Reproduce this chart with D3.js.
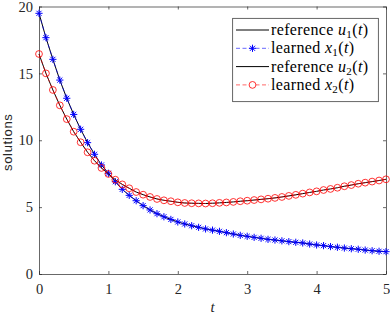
<!DOCTYPE html>
<html>
<head>
<meta charset="utf-8">
<script src="https://cdn.jsdelivr.net/npm/d3@7"></script>
<style>
  body { margin: 0; background: #fff; }
  svg { display: block; }
</style>
</head>
<body>
<svg id="chart" width="390" height="314"></svg>
<script>

// time samples (every 0.1 from 0 to 5)
var timeSteps = d3.range(51).map(function(i){ return i / 10; });

// learned x1(t), blue stars (reference u1 follows the same path)
var learnedX1 = [19.49, 17.67, 16.05, 14.50, 13.14, 11.93, 10.82, 9.82, 8.95, 8.15,
                 7.53, 6.90, 6.33, 5.88, 5.48, 5.11, 4.79, 4.51, 4.28, 4.08,
                 3.89, 3.74, 3.61, 3.49, 3.37, 3.28, 3.19, 3.09, 2.99, 2.89,
                 2.82, 2.74, 2.67, 2.59, 2.54, 2.48, 2.42, 2.37, 2.32, 2.24,
                 2.17, 2.12, 2.05, 2.00, 1.94, 1.89, 1.85, 1.79, 1.74, 1.70, 1.67];

// learned x2(t), red circles (reference u2 follows the same path)
var learnedX2 = [16.45, 15.00, 13.76, 12.61, 11.58, 10.64, 9.85, 9.10, 8.47, 7.93,
                 7.48, 7.05, 6.70, 6.41, 6.13, 5.93, 5.76, 5.61, 5.51, 5.44,
                 5.36, 5.31, 5.29, 5.28, 5.27, 5.29, 5.32, 5.35, 5.39, 5.44,
                 5.48, 5.53, 5.58, 5.63, 5.69, 5.76, 5.84, 5.92, 6.01, 6.10,
                 6.18, 6.28, 6.36, 6.45, 6.56, 6.65, 6.75, 6.83, 6.91, 6.99, 7.08];

var referenceU1 = learnedX1.slice();
var referenceU2 = learnedX2.slice();

var xTicks = [0, 1, 2, 3, 4, 5];
var yTicks = [0, 5, 10, 15, 20];

var legendRows = [
    { label: "reference ", sym: "u", sub: "1", kind: "ref" },
    { label: "learned ",   sym: "x", sub: "1", kind: "blue" },
    { label: "reference ", sym: "u", sub: "2", kind: "ref" },
    { label: "learned ",   sym: "x", sub: "2", kind: "red" }
];

var axisColor = "#262626";
var blue = "#0000ff";
var red = "#ff0000";
var serif = "'Liberation Serif', 'Times New Roman', serif";

var svg = d3.select("#chart");

var plotLeft = 39, plotRight = 386, plotTop = 6.5, plotBottom = 274;

var x = d3.scaleLinear().domain([0, 5]).range([plotLeft, plotRight]);
var y = d3.scaleLinear().domain([0, 20]).range([plotBottom, plotTop]);

// ---- axes (box on, inward ticks) ----
function styleAxis(g){
    g.select(".domain").attr("stroke", axisColor).attr("stroke-width", 0.7);
    g.selectAll(".tick line").attr("stroke", axisColor).attr("stroke-width", 0.7);
    g.selectAll(".tick text")
     .style("font-family", serif)
     .style("font-size", "14.5px")
     .style("fill", axisColor);
}

svg.append("g")
   .attr("transform", "translate(0," + plotBottom + ")")
   .call(d3.axisBottom(x).tickValues(xTicks).tickFormat(d3.format("d"))
           .tickSize(-3).tickSizeOuter(0).tickPadding(10))
   .call(styleAxis);

svg.append("g")
   .attr("transform", "translate(0," + plotTop + ")")
   .call(d3.axisTop(x).tickValues(xTicks).tickSize(-3).tickSizeOuter(0).tickFormat(""))
   .call(styleAxis);

svg.append("g")
   .attr("transform", "translate(" + plotLeft + ",0)")
   .call(d3.axisLeft(y).tickValues(yTicks).tickFormat(d3.format("d"))
           .tickSize(-3).tickSizeOuter(0).tickPadding(6))
   .call(styleAxis);

svg.append("g")
   .attr("transform", "translate(" + plotRight + ",0)")
   .call(d3.axisRight(y).tickValues(yTicks).tickSize(-3).tickSizeOuter(0).tickFormat(""))
   .call(styleAxis);

// axis labels
svg.append("text")
   .attr("x", (plotLeft + plotRight) / 2)
   .attr("y", 312)
   .attr("text-anchor", "middle")
   .style("font-family", serif)
   .style("font-style", "italic")
   .style("font-size", "15px")
   .style("fill", axisColor)
   .text("t");

svg.append("text")
   .attr("transform", "translate(12," + ((plotTop + plotBottom) / 2 + 2) + ") rotate(-90)")
   .attr("text-anchor", "middle")
   .style("font-family", "'Liberation Sans', Arial, sans-serif")
   .style("font-size", "13px")
   .style("letter-spacing", "0.7px")
   .style("fill", axisColor)
   .text("solutions");

// ---- series ----
var line = function(values){
    return d3.line()
             .x(function(d, i){ return x(timeSteps[i]); })
             .y(function(d){ return y(d); })(values);
};

function starPath(r){
    var d = r * Math.SQRT1_2;
    return "M" + (-r) + ",0H" + r + "M0," + (-r) + "V" + r +
           "M" + (-d) + "," + (-d) + "L" + d + "," + d +
           "M" + (-d) + "," + d + "L" + d + "," + (-d);
}

var plot = svg.append("g").attr("class", "plot");

// reference u1
plot.append("path").attr("d", line(referenceU1))
    .attr("fill", "none").attr("stroke", "#000").attr("stroke-width", 1);

// learned x1
plot.append("path").attr("d", line(learnedX1))
    .attr("fill", "none").attr("stroke", blue).attr("stroke-width", 0.6)
    .attr("stroke-dasharray", "4,2.5");
plot.selectAll(".star").data(learnedX1).enter()
    .append("path")
    .attr("class", "star")
    .attr("transform", function(d, i){ return "translate(" + x(timeSteps[i]) + "," + y(d) + ")"; })
    .attr("d", starPath(3.6))
    .attr("stroke", blue).attr("stroke-width", 1).attr("fill", "none");

// reference u2
plot.append("path").attr("d", line(referenceU2))
    .attr("fill", "none").attr("stroke", "#000").attr("stroke-width", 1);

// learned x2
plot.append("path").attr("d", line(learnedX2))
    .attr("fill", "none").attr("stroke", red).attr("stroke-width", 0.6)
    .attr("stroke-dasharray", "4,2.5");
plot.selectAll(".ring").data(learnedX2).enter()
    .append("circle")
    .attr("class", "ring")
    .attr("cx", function(d, i){ return x(timeSteps[i]); })
    .attr("cy", function(d){ return y(d); })
    .attr("r", 3.4)
    .attr("stroke", red).attr("stroke-width", 0.8).attr("fill", "none");

// ---- legend ----
var legend = svg.append("g").attr("class", "legend");
legend.append("rect")
      .attr("x", 232.7).attr("y", 18.3)
      .attr("width", 145.6).attr("height", 83.4)
      .attr("fill", "#fff").attr("stroke", axisColor).attr("stroke-width", 0.7);

legendRows.forEach(function(row, i){
    var cy = 30 + i * 18.3;
    var g = legend.append("g");
    if ( row.kind == "ref" ){
        g.append("line").attr("x1", 236).attr("x2", 269).attr("y1", cy).attr("y2", cy)
         .attr("stroke", "#000").attr("stroke-width", 1);
    }
    else {
        var c = row.kind == "blue" ? blue : red;
        g.append("line").attr("x1", 236).attr("x2", 269).attr("y1", cy).attr("y2", cy)
         .attr("stroke", c).attr("stroke-width", 0.6).attr("stroke-dasharray", "4,2.5");
        if ( row.kind == "blue" )
            g.append("path").attr("transform", "translate(252.5," + cy + ")")
             .attr("d", starPath(3.6)).attr("stroke", c).attr("stroke-width", 1).attr("fill", "none");
        else
            g.append("circle").attr("cx", 252.5).attr("cy", cy).attr("r", 3.4)
             .attr("stroke", c).attr("stroke-width", 0.8).attr("fill", "#fff");
    }
    var t = g.append("text")
             .attr("x", 271).attr("y", cy + 5)
             .style("font-family", serif)
             .style("font-size", "16px")
             .style("letter-spacing", "0.35px")
             .style("fill", "#000");
    t.append("tspan").text(row.label);
    t.append("tspan").style("font-style", "italic").text(row.sym);
    t.append("tspan").attr("dy", 3).style("font-size", "11px").text(row.sub);
    t.append("tspan").attr("dy", -3).text("(");
    t.append("tspan").style("font-style", "italic").text("t");
    t.append("tspan").text(")");
});

</script>
</body>
</html>
